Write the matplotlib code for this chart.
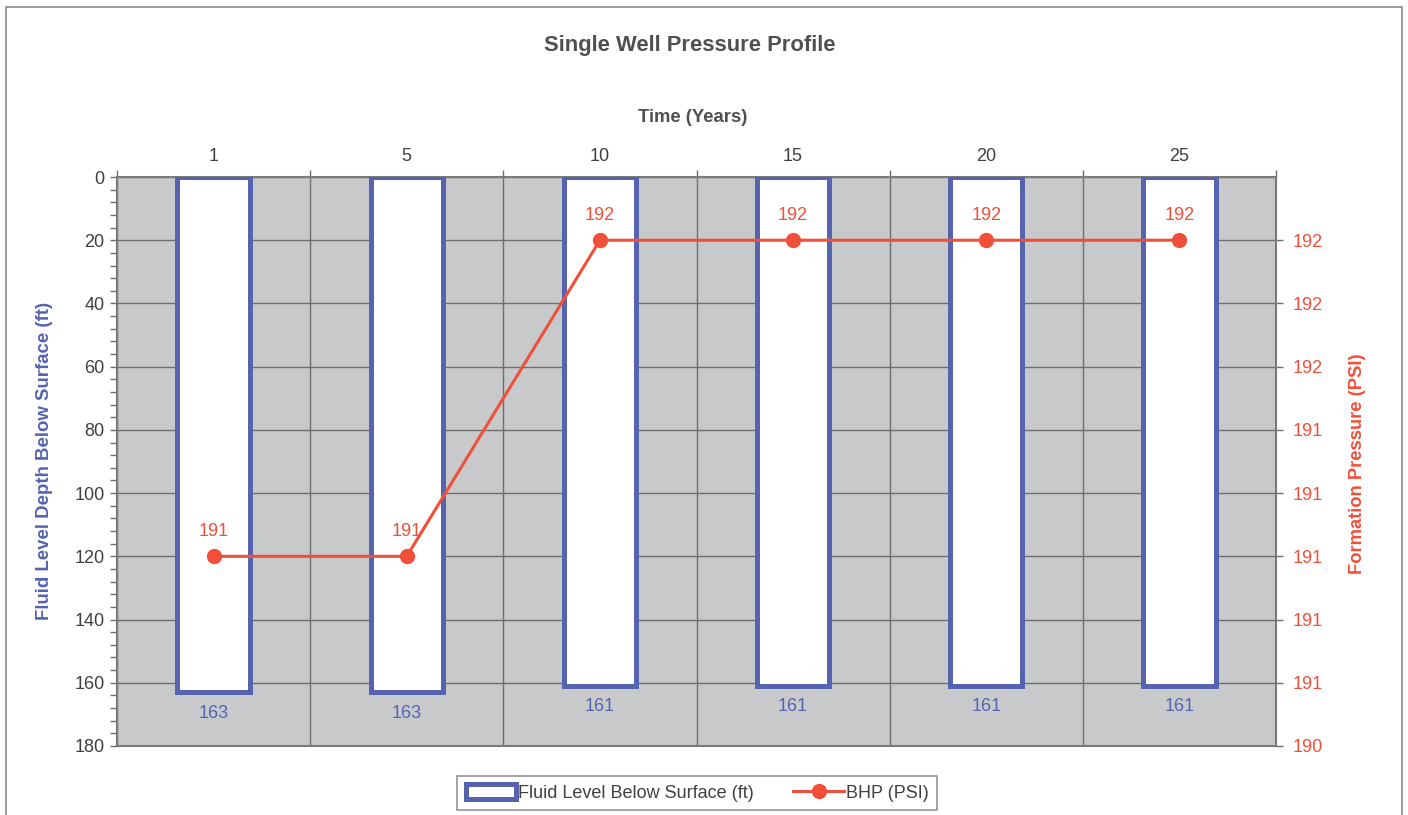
import matplotlib
matplotlib.use("Agg")
import matplotlib.pyplot as plt
from matplotlib.patches import Rectangle
from matplotlib.ticker import FixedLocator, FuncFormatter

plt.rcParams['font.family'] = ['Liberation Sans', 'DejaVu Sans']

# Data
years = ['1', '5', '10', '15', '20', '25']
fluid_level_ft = [163, 163, 161, 161, 161, 161]
bhp_psi = [191, 191, 192, 192, 192, 192]

BLUE = '#5664B0'
RED = '#F0503A'
GRAY_BG = '#C8C9CB'
GRID = '#6E6E6E'
TXT = '#404040'
FS = 13

W, H = 1408, 815
fig = plt.figure(figsize=(W / 100, H / 100), dpi=100)

# Outer chart border
fig.patches.append(Rectangle((6 / W, -0.01), (1402 - 6) / W, 1 - 7 / H + 0.01,
                             transform=fig.transFigure, fill=False,
                             edgecolor='#8A8A8A', linewidth=1.2))

left, right, top, bottom = 117, 1276, 177, 746
ax = fig.add_axes([left / W, 1 - bottom / H, (right - left) / W, (bottom - top) / H])
ax.set_facecolor(GRAY_BG)

x = list(range(len(years)))
bars = ax.bar(x, fluid_level_ft, width=0.375, color='white', edgecolor=BLUE,
              linewidth=3.6, zorder=3, label='Fluid Level Below Surface (ft)')
for xi, v in zip(x, fluid_level_ft):
    ax.annotate(f'{v}', (xi, v), xytext=(0, -15), textcoords='offset points',
                ha='center', va='center', color=BLUE, fontsize=FS, zorder=5)

ax.set_xlim(-0.5, len(years) - 0.5)
ax.set_ylim(180, 0)
ax.set_yticks(range(0, 181, 20))
ax.yaxis.set_minor_locator(FixedLocator([v for v in range(0, 181, 4) if v % 20]))
ax.tick_params(axis='y', which='major', length=5, width=1, color=GRID,
               labelsize=FS, labelcolor=TXT, pad=4)
ax.tick_params(axis='y', which='minor', length=5, width=1, color=GRID)

ax.xaxis.tick_top()
ax.set_xticks(x)
ax.set_xticklabels(years)
ax.xaxis.set_minor_locator(FixedLocator([i - 0.5 for i in range(len(years) + 1)]))
ax.tick_params(axis='x', which='major', length=0, labelsize=FS, labelcolor=TXT, pad=8.5)
ax.tick_params(axis='x', which='minor', length=5, width=1, color=GRID, top=True, bottom=False)

ax.set_axisbelow(True)
ax.grid(axis='y', which='major', color=GRID, linewidth=1)
ax.grid(axis='x', which='minor', color=GRID, linewidth=1)
for s in ax.spines.values():
    s.set_color('#7A7A7A')
    s.set_linewidth(1.5)

# Pressure on the secondary axis
ax2 = ax.twinx()
ax2.set_ylim(190.4, 192.2)
ax2.set_yticks([190.4 + 0.2 * i for i in range(9)])
ax2.yaxis.set_major_formatter(FuncFormatter(lambda v, p: f'{v:.0f}'))
ax2.tick_params(axis='y', length=5, width=1, color=GRID, labelsize=FS,
                labelcolor=RED, pad=7)
for s in ax2.spines.values():
    s.set_visible(False)
line, = ax2.plot(x, bhp_psi, color=RED, linewidth=2.2, marker='o', markersize=10,
                 zorder=6, label='BHP (PSI)')
for xi, v in zip(x, bhp_psi):
    ax2.annotate(f'{v}', (xi, v), xytext=(0, 18), textcoords='offset points',
                 ha='center', va='center', color=RED, fontsize=FS, zorder=7)

# Titles and axis labels
fig.text(690 / W, 1 - 45 / H, 'Single Well Pressure Profile', ha='center', va='center',
         fontsize=15.8, fontweight='bold', color='#505050')
fig.text(693 / W, 1 - 117 / H, 'Time (Years)', ha='center', va='center',
         fontsize=13.3, fontweight='bold', color='#505050')
fig.text(45 / W, 1 - 461 / H, 'Fluid Level Depth Below Surface (ft)', rotation=90,
         ha='center', va='center', fontsize=13.4, fontweight='bold', color=BLUE)
fig.text(1358 / W, 1 - 464 / H, 'Formation Pressure (PSI)', rotation=90,
         ha='center', va='center', fontsize=13.2, fontweight='bold', color=RED)

leg = fig.legend(handles=[bars, line], loc='center', bbox_to_anchor=(697 / W, 1 - 793 / H),
                 ncol=2, frameon=True, fancybox=False, fontsize=FS, handlelength=2.8,
                 handleheight=0.9, handletextpad=0.1, columnspacing=2.2, borderpad=0.45)
leg.get_frame().set_edgecolor('#7A7A7A')
leg.get_frame().set_linewidth(1.2)
for t in leg.get_texts():
    t.set_color(TXT)

fig.savefig('out.png', dpi=100)
